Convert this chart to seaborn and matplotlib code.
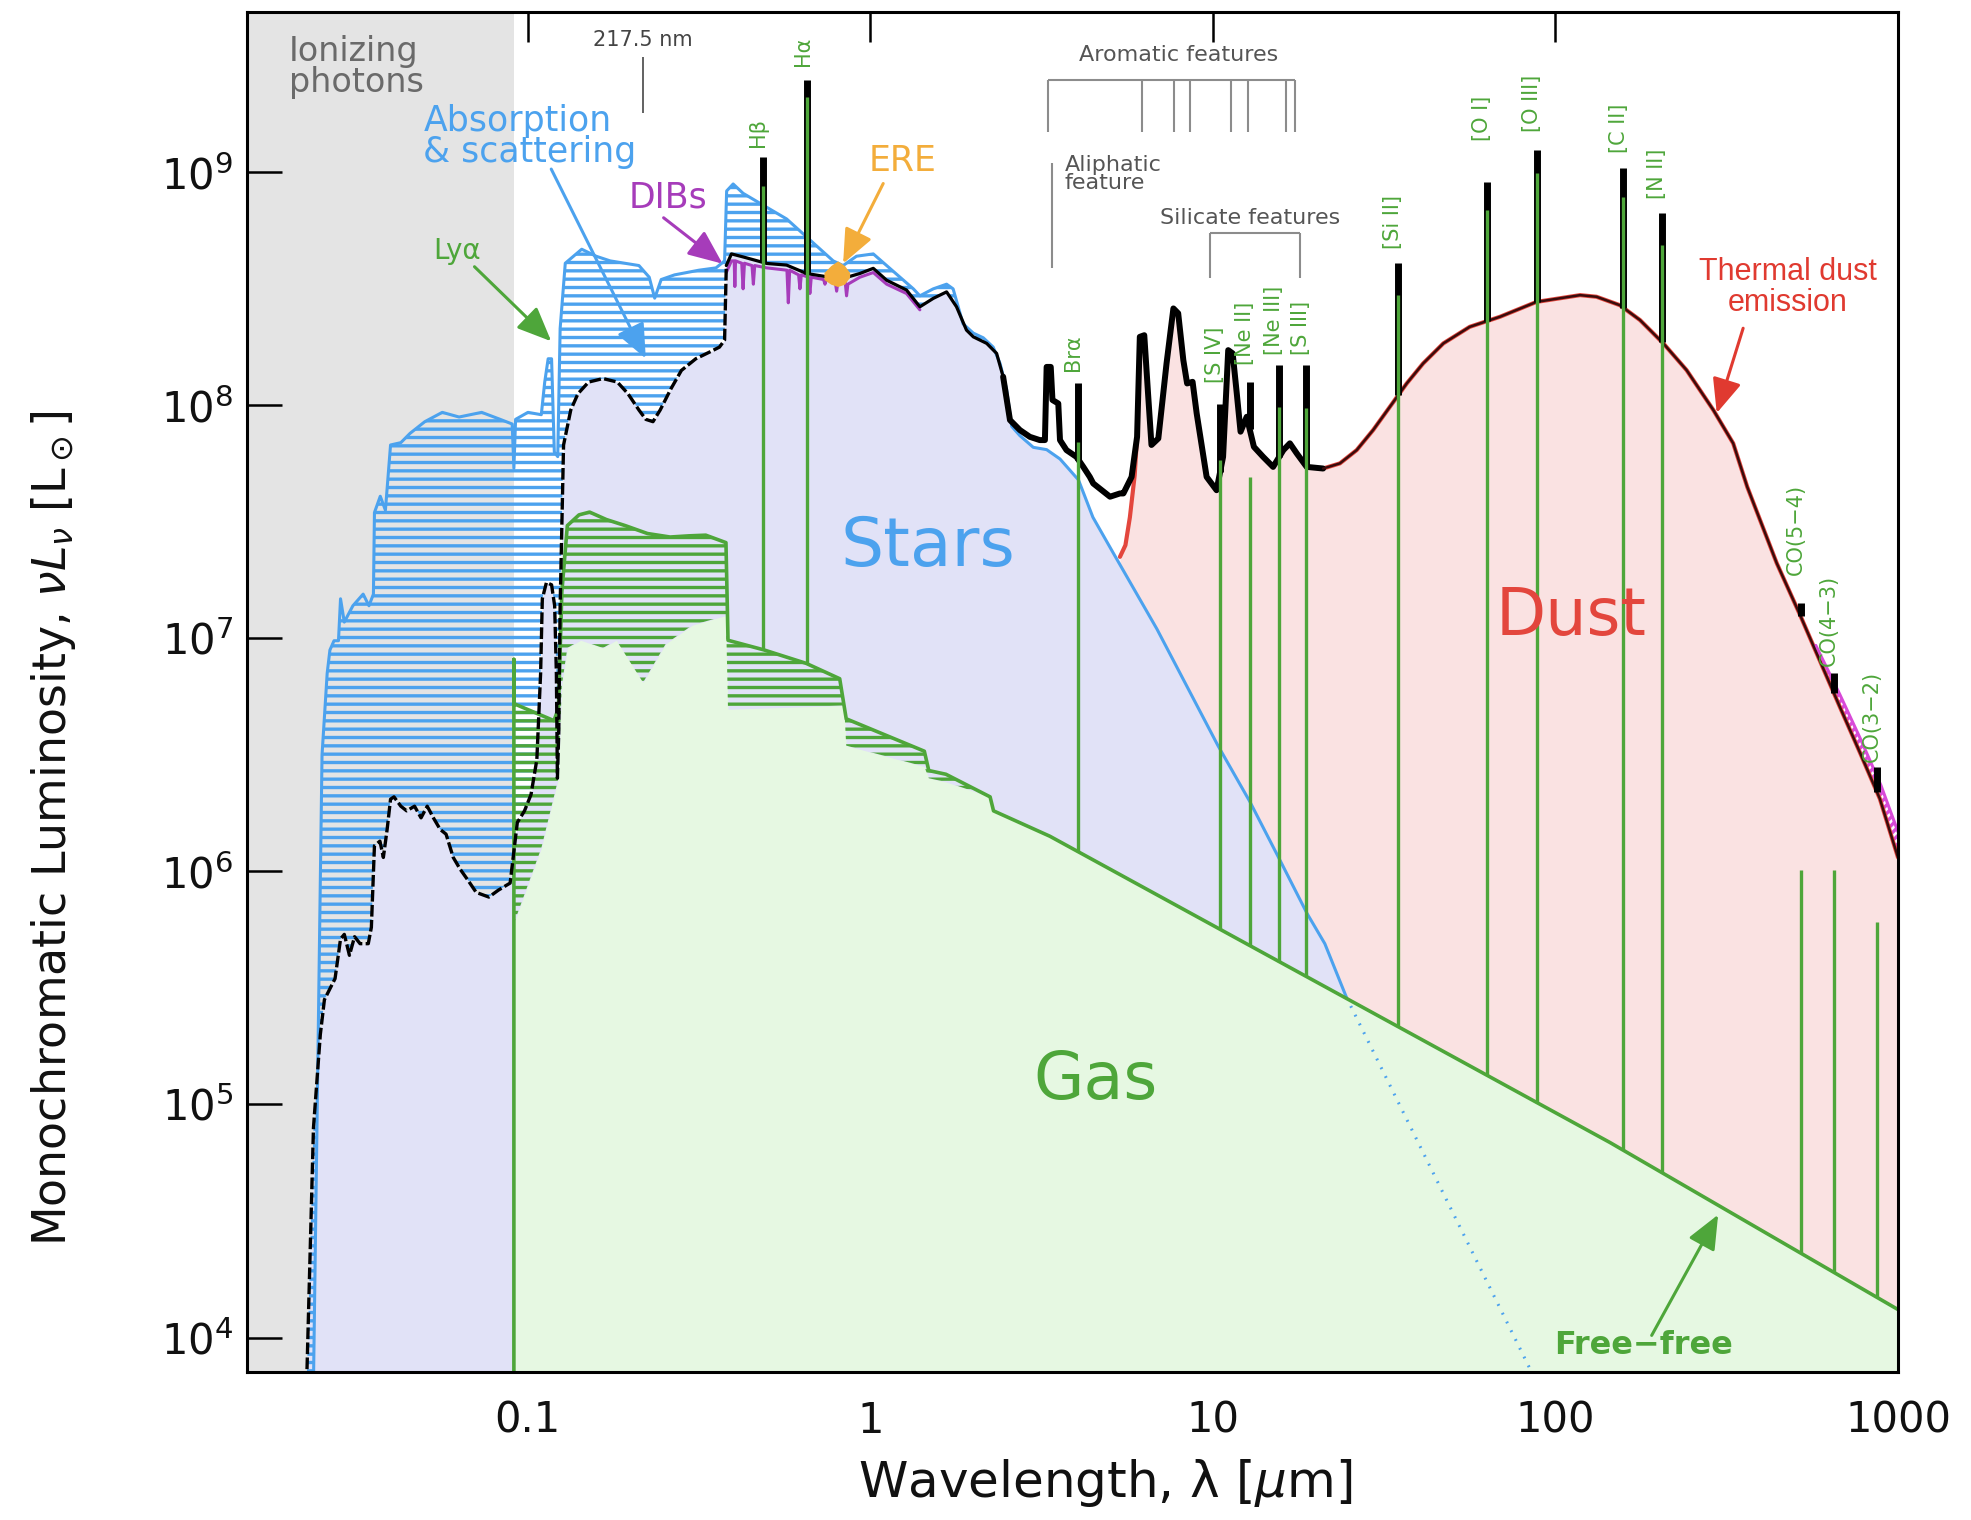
import numpy as np
import matplotlib
matplotlib.use("Agg")
import matplotlib.pyplot as plt
from matplotlib.ticker import NullLocator
import seaborn as sns

# ---------------- DATA ----------------
# spectra: log10(wavelength / micron), log10(nu L_nu / L_sun)

# intrinsic (unattenuated) stellar spectrum (blue)
star_intr_loglam = [-1.625, -1.600, -1.585, -1.577, -1.565, -1.552, -1.546, -1.535, -1.510, -1.480,
                    -1.463, -1.450, -1.447, -1.430, -1.415, -1.400, -1.370, -1.343, -1.300, -1.249,
                    -1.200, -1.134, -1.080, -1.045, -1.040, -1.035, -0.999, -0.960, -0.950, -0.940,
                    -0.930, -0.922, -0.912, -0.905, -0.890, -0.842, -0.800, -0.759, -0.675, -0.645,
                    -0.629, -0.610, -0.571, -0.500, -0.450, -0.425, -0.419, -0.400, -0.371, -0.302,
                    -0.244, -0.176, -0.108, -0.079, -0.040, 0.009, 0.048, 0.126, 0.145, 0.184,
                    0.223, 0.242, 0.271, 0.301, 0.330, 0.359, 0.379, 0.398, 0.413, 0.437,
                    0.476, 0.515, 0.554, 0.608, 0.650, 0.712, 0.837, 1.015, 1.108, 1.192,
                    1.275, 1.327, 1.390, 1.921, 1.950]
star_intr_logL = [3.80, 6.50, 6.85, 6.95, 6.99, 6.99, 7.17, 7.07, 7.14, 7.19,
                  7.14, 7.19, 7.54, 7.61, 7.55, 7.83, 7.84, 7.88, 7.93, 7.97,
                  7.95, 7.97, 7.94, 7.92, 7.73, 7.94, 7.97, 7.96, 8.10, 8.20,
                  8.20, 7.80, 7.78, 8.33, 8.61, 8.67, 8.64, 8.62, 8.60, 8.55,
                  8.46, 8.54, 8.56, 8.58, 8.59, 8.62, 8.92, 8.95, 8.91, 8.85,
                  8.80, 8.71, 8.62, 8.60, 8.64, 8.65, 8.60, 8.50, 8.47, 8.50,
                  8.52, 8.50, 8.35, 8.31, 8.29, 8.25, 8.18, 8.07, 7.91, 7.87,
                  7.82, 7.81, 7.77, 7.68, 7.52, 7.36, 7.04, 6.54, 6.30, 6.06,
                  5.82, 5.69, 5.46, 3.88, 3.79]

# observed total (black): UV to near-IR part (attenuated stars + PAH 3.3)
total_uv_loglam = [-1.645, -1.625, -1.605, -1.593, -1.562, -1.546, -1.535, -1.520, -1.505, -1.489,
                   -1.465, -1.456, -1.447, -1.431, -1.421, -1.410, -1.400, -1.390, -1.370, -1.353,
                   -1.330, -1.311, -1.293, -1.275, -1.255, -1.238, -1.217, -1.197, -1.173, -1.150,
                   -1.113, -1.085, -1.051, -1.030, -1.009, -0.990, -0.973, -0.962, -0.957, -0.945,
                   -0.930, -0.921, -0.916, -0.913, -0.909, -0.905, -0.895, -0.874, -0.853, -0.822,
                   -0.780, -0.738, -0.707, -0.675, -0.655, -0.634, -0.613, -0.582, -0.551, -0.509,
                   -0.467, -0.440, -0.425, -0.420, -0.405, -0.371, -0.302, -0.244, -0.186, -0.127,
                   -0.079, -0.030, 0.009, 0.048, 0.106, 0.145, 0.184, 0.223, 0.252, 0.281,
                   0.301, 0.340, 0.369, 0.388, 0.408, 0.437, 0.466, 0.495, 0.510, 0.515,
                   0.527, 0.532, 0.549, 0.554, 0.573, 0.602, 0.622, 0.641, 0.651, 0.700,
                   0.729, 0.739, 0.763]
total_uv_logL = [3.80, 4.90, 5.30, 5.45, 5.54, 5.71, 5.73, 5.64, 5.72, 5.69,
                 5.69, 5.76, 6.11, 6.13, 6.06, 6.18, 6.31, 6.32, 6.28, 6.26,
                 6.28, 6.23, 6.28, 6.23, 6.18, 6.16, 6.06, 6.01, 5.96, 5.91,
                 5.89, 5.92, 5.95, 6.21, 6.26, 6.33, 6.48, 6.85, 7.17, 7.24,
                 7.23, 7.14, 6.85, 6.40, 6.60, 7.14, 7.83, 7.98, 8.05, 8.10,
                 8.115, 8.10, 8.05, 7.98, 7.94, 7.93, 7.98, 8.07, 8.15, 8.20,
                 8.23, 8.25, 8.28, 8.60, 8.65, 8.637, 8.609, 8.602, 8.566, 8.552,
                 8.545, 8.566, 8.588, 8.537, 8.495, 8.423, 8.459, 8.487, 8.423, 8.323,
                 8.294, 8.266, 8.223, 8.123, 7.937, 7.894, 7.865, 7.851, 7.851, 8.165,
                 8.165, 8.023, 8.008, 7.851, 7.808, 7.779, 7.736, 7.693, 7.665, 7.608,
                 7.622, 7.622, 7.693]

# observed total: infrared part (dust dominated)
total_ir_loglam = [0.779, 0.787, 0.800, 0.811, 0.821, 0.841, 0.865, 0.885, 0.899, 0.914,
                   0.925, 0.941, 0.953, 0.982, 1.011, 1.030, 1.045, 1.058, 1.070, 1.081,
                   1.099, 1.120, 1.147, 1.176, 1.206, 1.225, 1.245, 1.274, 1.322, 1.371,
                   1.420, 1.468, 1.517, 1.566, 1.614, 1.673, 1.750, 1.838, 1.945, 2.072,
                   2.120, 2.188, 2.247, 2.315, 2.383, 2.461, 2.519, 2.560, 2.646, 2.714,
                   2.772, 2.830, 2.889, 2.947, 3.000]
total_ir_logL = [7.865, 8.294, 8.301, 8.051, 7.830, 7.858, 8.180, 8.416, 8.395, 8.194,
                 8.094, 8.101, 7.965, 7.693, 7.636, 7.779, 8.237, 8.223, 8.051, 7.887,
                 7.951, 7.822, 7.779, 7.736, 7.808, 7.837, 7.794, 7.736, 7.729, 7.751,
                 7.808, 7.894, 7.994, 8.094, 8.180, 8.266, 8.337, 8.380, 8.444, 8.473,
                 8.466, 8.430, 8.366, 8.266, 8.151, 7.980, 7.837, 7.650, 7.323, 7.101,
                 6.904, 6.707, 6.510, 6.312, 6.060]

# rising edge of the thermal-dust curve before it joins the total
dust_edge_loglam = [0.729, 0.745, 0.758, 0.772]
dust_edge_logL = [7.35, 7.40, 7.52, 7.70]

# nebular gas: intrinsic continuum (green line) and attenuated (pale fill top)
gas_intr_loglam = [-1.040, -1.040, -1.040, -0.923, -0.910, -0.900, -0.884, -0.850, -0.819, -0.770,
                   -0.715, -0.650, -0.584, -0.530, -0.480, -0.421, -0.415, -0.311, -0.187, -0.089,
                   -0.070, 0.158, 0.171, 0.221, 0.350, 0.360, 0.5245, 2.159, 3.000]
gas_intr_logL = [3.80, 6.91, 6.72, 6.647, 6.70, 7.20, 7.484, 7.53, 7.542, 7.51,
                 7.484, 7.45, 7.435, 7.44, 7.443, 7.411, 6.992, 6.951, 6.893, 6.827,
                 6.655, 6.516, 6.433, 6.417, 6.32, 6.26, 6.151, 4.837, 4.12]
gas_att_loglam = [-1.040, -1.040, -0.960, -0.910, -0.900, -0.884, -0.845, -0.780, -0.741, -0.663,
                  -0.597, -0.519, -0.421, -0.415, -0.076, -0.070, 0.158, 0.171, 0.221, 0.350,
                  0.360, 0.5245, 2.159, 3.000]
gas_att_logL = [3.80, 5.777, 6.10, 6.40, 6.80, 6.959, 6.992, 6.959, 6.992, 6.811,
                6.976, 7.057, 7.098, 6.696, 6.712, 6.54, 6.45, 6.40, 6.384, 6.32,
                6.26, 6.151, 4.837, 4.12]

# diffuse interstellar bands (purple) and extended red emission (orange)
dib_loglam = [-0.420, -0.405, -0.397, -0.395, -0.393, -0.375, -0.371, -0.367, -0.345, -0.341,
              -0.337, -0.302, -0.243, -0.239, -0.235, -0.209, -0.205, -0.201, -0.180, -0.176,
              -0.172, -0.136, -0.132, -0.128, -0.102, -0.098, -0.094, -0.073, -0.069, -0.065,
              -0.030, 0.009, 0.048, 0.106, 0.145]
dib_logL = [8.57, 8.62, 8.62, 8.51, 8.62, 8.61, 8.50, 8.61, 8.60, 8.52,
            8.60, 8.59, 8.58, 8.44, 8.58, 8.56, 8.50, 8.56, 8.55, 8.48,
            8.55, 8.54, 8.52, 8.54, 8.53, 8.49, 8.53, 8.53, 8.47, 8.52,
            8.55, 8.57, 8.52, 8.48, 8.41]
ere_loglam = [-0.135, -0.115, -0.095, -0.075, -0.060]
ere_top_logL = [8.57, 8.60, 8.62, 8.60, 8.57]
ere_bot_logL = [8.54, 8.52, 8.51, 8.52, 8.55]

# far-IR magenta component
sync_loglam = [2.76, 2.83, 2.89, 2.95, 3.00]
sync_logL = [6.97, 6.76, 6.57, 6.37, 6.17]

# emission lines
line_names = ["Hβ", "Hα", "Brα", "[S IV]", "[Ne II]", "[Ne III]", "[S III]", "[Si II]",
              "[O I]", "[O III]", "[C II]", "[N II]", "CO(5−4)", "CO(4−3)", "CO(3−2)"]
line_wl = [0.486, 0.656, 4.05, 10.5, 12.8, 15.6, 18.7, 34.8, 63.2, 88.4, 158.0, 205.0,
           520.0, 650.0, 867.0]
line_green_top = [8.94, 9.324, 7.844, 7.765, 7.694, 7.994, 7.987, 8.473, 8.838, 8.995,
                  8.895, 8.688, 6.005, 6.005, 5.783]
line_black_top = [9.064, 9.396, 8.094, 8.008, 8.101, 8.173, 8.173, 8.609, 8.959, 9.095,
                  9.017, 8.824, 7.15, 6.85, 6.45]
line_label_bottom = [9.108, 9.458, 8.148, 8.094, 8.175, 8.218, 8.218, 8.671, 9.135, 9.173,
                     9.081, 8.887, 7.27, 6.88, 6.47]

# feature markers (micron)
aromatic_wl = [3.3, 6.2, 7.7, 8.6, 11.3, 12.7, 16.4, 17.4]
aliphatic_wl = 3.4
silicate_wl = [9.8, 18.0]
bump_wl = 0.2175
lyman_limit_wl = 0.0912

xtick_vals = [0.1, 1, 10, 100, 1000]
xtick_labels = ["0.1", "1", "10", "100", "1000"]
ytick_vals = [1e4, 1e5, 1e6, 1e7, 1e8, 1e9]

# ---------------- STYLE ----------------
sns.set_theme(style="white")
plt.rcParams["font.family"] = ["DejaVu Sans"]
plt.rcParams["mathtext.fontset"] = "dejavusans"
plt.rcParams["hatch.linewidth"] = 2.4

BLUE = "#4ca2ee"
GREEN = "#4ea63a"
PALEGREEN = "#e6f8e2"
LAVENDER = "#e1e2f7"
PINK = "#fae2e2"
GREY = "#e4e4e4"
RED = "#e3463d"
PURPLE = "#a63cba"
ORANGE = "#f3ad3b"
MAGENTA = "#d84ad8"
FEAT = "#8c8c8c"

fig = plt.figure(figsize=(19.71, 15.20), dpi=100)
ax = fig.add_axes([247 / 1971, 148 / 1520, 1651 / 1971, 1360 / 1520])
ax.set_xscale("log")
ax.set_yscale("log")
XMIN, XMAX = 10 ** -1.819, 10 ** 3.0
YMIN, YMAX = 10 ** 3.852, 10 ** 9.688
ax.set_xlim(XMIN, XMAX)
ax.set_ylim(YMIN, YMAX)

E = lambda a: 10 ** np.asarray(a, dtype=float)

si_x, si_y = np.array(star_intr_loglam), np.array(star_intr_logL)
tu_x, tu_y = np.array(total_uv_loglam), np.array(total_uv_logL)
ti_x, ti_y = np.array(total_ir_loglam), np.array(total_ir_logL)
tot_x, tot_y = np.r_[tu_x, ti_x], np.r_[tu_y, ti_y]
du_x, du_y = np.r_[dust_edge_loglam, ti_x], np.r_[dust_edge_logL, ti_y]
gi_x, gi_y = np.array(gas_intr_loglam), np.array(gas_intr_logL)
ga_x, ga_y = np.array(gas_att_loglam), np.array(gas_att_logL)

# attenuated stars = black curve in UV/optical, intrinsic beyond 2.5 micron
m1 = tu_x <= 0.408
m2 = si_x >= 0.413
sa_x, sa_y = np.r_[tu_x[m1], si_x[m2]], np.r_[tu_y[m1], si_y[m2]]

# ---------------- FILLS ----------------
ax.axvspan(XMIN, lyman_limit_wl, color=GREY, lw=0, zorder=0.5)
ax.fill_between(E(du_x), YMIN, E(du_y), color=PINK, lw=0, zorder=1.0)
ax.fill_between(E(sa_x), YMIN, E(sa_y), color=LAVENDER, lw=0, zorder=1.2)
mb = si_x <= 0.413
ax.fill(np.r_[E(si_x[mb]), E(tu_x[m1])[::-1]], np.r_[E(si_y[mb]), E(tu_y[m1])[::-1]],
        facecolor="none", edgecolor=BLUE, lw=0, hatch="--", zorder=1.4)
ax.fill_between(E(ga_x), YMIN, E(ga_y), color=PALEGREEN, lw=0, zorder=1.6)
mg1 = (np.arange(len(gi_x)) >= 2) & (gi_x <= 0.35)
mg2 = (np.arange(len(ga_x)) >= 1) & (ga_x <= 0.35)
ax.fill(np.r_[E(gi_x[mg1]), E(ga_x[mg2])[::-1]], np.r_[E(gi_y[mg1]), E(ga_y[mg2])[::-1]],
        facecolor="none", edgecolor=GREEN, lw=0, hatch="--", zorder=1.8)
ms = ti_x >= 2.76
ax.fill(np.r_[E(sync_loglam), E(ti_x[ms])[::-1]], np.r_[E(sync_logL), E(ti_y[ms])[::-1]],
        facecolor="none", edgecolor=MAGENTA, lw=0, hatch="////", zorder=1.9)
ax.fill_between(E(ere_loglam), E(ere_bot_logL), E(ere_top_logL), color=ORANGE, lw=0, zorder=3.6)


def sline(x, y, **kw):
    sns.lineplot(x=E(x), y=E(y), ax=ax, estimator=None, sort=False, legend=False, **kw)


# ---------------- LINES ----------------
ms1 = si_x <= 1.39
ms2 = si_x >= 1.39
sline(si_x[ms1], si_y[ms1], color=BLUE, lw=2.2, zorder=3.0)
sline(si_x[ms2], si_y[ms2], color=BLUE, lw=2.2, linestyle=(0, (0.6, 2.6)), zorder=3.0)
sline(du_x, du_y, color=RED, lw=3.0, zorder=3.1)
sline(gi_x, gi_y, color=GREEN, lw=2.6, zorder=3.2)
sline(dib_loglam, dib_logL, color=PURPLE, lw=2.2, zorder=3.3)
sline(sync_loglam, sync_logL, color=MAGENTA, lw=2.2, zorder=3.3)
ka = tot_x <= -0.420
kb = (tot_x >= -0.420) & (tot_x <= 0.408)
kc = (tot_x >= 0.388) & (tot_x <= 1.322)
kd = tot_x >= 1.322
sline(tot_x[ka], tot_y[ka], color="black", lw=2.4, linestyle=(0, (3.5, 1.0)), zorder=3.5)
sline(tot_x[kb], tot_y[kb], color="black", lw=2.3, zorder=3.5)
sline(tot_x[kc], tot_y[kc], color="black", lw=4.3, zorder=3.5)
sline(tot_x[kd], tot_y[kd], color="#3a0c0c", lw=1.8, zorder=3.5)

# emission lines
gas_mono_x, gas_mono_y = gi_x[2:], gi_y[2:]
for name, wl, gt, bt, lb in zip(line_names, line_wl, line_green_top, line_black_top, line_label_bottom):
    lw_ = np.log10(wl)
    cont = np.interp(lw_, tot_x, tot_y)
    base = np.interp(lw_, gas_mono_x, gas_mono_y)
    if bt > cont:
        ax.vlines(wl, 10 ** cont, 10 ** bt, color="black", lw=5.0, zorder=4.0)
    ax.vlines(wl, 10 ** base, 10 ** gt, color=GREEN, lw=2.4, zorder=4.5)
    ax.annotate(name, (wl, 10 ** lb), xytext=(-3.5, 0), textcoords="offset points",
                rotation=90, ha="center", va="bottom", fontsize=15, color=GREEN, zorder=6)

# ---------------- FEATURE BRACKETS ----------------
ax.hlines(10 ** 9.396, aromatic_wl[0], aromatic_wl[-1], color=FEAT, lw=1.5, zorder=5)
ax.vlines(aromatic_wl, 10 ** 9.174, 10 ** 9.396, color=FEAT, lw=1.5, zorder=5)
ax.vlines(aliphatic_wl, 10 ** 8.59, 10 ** 9.04, color=FEAT, lw=1.5, zorder=5)
ax.hlines(10 ** 8.738, silicate_wl[0], silicate_wl[1], color=FEAT, lw=1.5, zorder=5)
ax.vlines(silicate_wl, 10 ** 8.545, 10 ** 8.738, color=FEAT, lw=1.5, zorder=5)
ax.vlines(bump_wl, 10 ** 9.253, 10 ** 9.496, color="#555555", lw=1.3, zorder=5)


def P(lx, ly):
    return (10 ** lx, 10 ** ly)


ax.text(*P(-0.664, 9.567), "217.5 nm", fontsize=15, color="#444444", ha="center", va="center", zorder=6)
ax.text(*P(0.901, 9.503), "Aromatic features", fontsize=16, color="#555555", ha="center", va="center", zorder=6)
ax.text(*P(0.568, 9.075), "Aliphatic\nfeature", fontsize=16, color="#555555", ha="left", va="top",
        linespacing=0.9, zorder=6)
ax.text(*P(1.109, 8.802), "Silicate features", fontsize=16, color="#555555", ha="center", va="center", zorder=6)

# ---------------- LABELS / ANNOTATIONS ----------------
ax.text(*P(-1.697, 9.59), "Ionizing\nphotons", fontsize=24, color="#6a6a6a", ha="left", va="top",
        linespacing=0.92, zorder=6)
ax.text(*P(-1.304, 9.295), "Absorption\n& scattering", fontsize=25, color=BLUE, ha="left", va="top",
        linespacing=0.9, zorder=6)
ax.text(*P(-1.207, 8.664), "Lyα", fontsize=20, color=GREEN, ha="center", va="center", zorder=6)
ax.text(*P(-0.589, 8.891), "DIBs", fontsize=25, color=PURPLE, ha="center", va="center", zorder=6)
ax.text(*P(0.094, 9.049), "ERE", fontsize=25, color=ORANGE, ha="center", va="center", zorder=6)
ax.text(*P(0.168, 7.393), "Stars", fontsize=49, color=BLUE, ha="center", va="center", zorder=6)
ax.text(*P(2.047, 7.091), "Dust", fontsize=47, color=RED, ha="center", va="center", zorder=6)
ax.text(*P(0.659, 5.10), "Gas", fontsize=47, color=GREEN, ha="center", va="center", zorder=6)
ax.text(*P(2.256, 3.965), "Free−free", fontsize=23, color=GREEN, ha="center", va="center",
        fontweight="bold", zorder=6)
ax.text(*P(2.679, 8.505), "Thermal dust\nemission", fontsize=22, color="#e03a30", ha="center",
        va="center", family=["Liberation Sans", "DejaVu Sans"], linespacing=1.05, zorder=6)


def arrow(tail, head, color):
    ax.annotate("", xy=P(*head), xytext=P(*tail),
                arrowprops=dict(arrowstyle="-|>,head_length=0.7,head_width=0.3", color=color,
                                lw=2.2, shrinkA=0, shrinkB=0, mutation_scale=30), zorder=6)


arrow((-0.931, 9.014), (-0.655, 8.201), BLUE)
arrow((-1.155, 8.595), (-0.931, 8.275), GREEN)
arrow((-0.603, 8.805), (-0.431, 8.608), PURPLE)
arrow((0.038, 8.952), (-0.079, 8.609), ORANGE)
arrow((2.548, 8.331), (2.471, 7.967), "#e03a30")
arrow((2.281, 4.009), (2.475, 4.527), GREEN)

# ---------------- AXES ----------------
ax.set_xticks(xtick_vals)
ax.set_xticklabels(xtick_labels)
ax.set_yticks(ytick_vals)
ax.xaxis.set_minor_locator(NullLocator())
ax.yaxis.set_minor_locator(NullLocator())
ax.tick_params(axis="x", which="major", direction="in", length=21.6, width=1.8, top=True,
               bottom=False, labelbottom=True, labelsize=30, pad=20, color="black", labelcolor="#111111")
ax.tick_params(axis="y", which="major", direction="in", length=25, width=1.8, left=True,
               right=False, labelsize=30, pad=10, color="black", labelcolor="#111111")
for s in ax.spines.values():
    s.set_linewidth(2.2)
    s.set_color("black")
    s.set_zorder(7)

ax.set_xlabel("Wavelength, λ [$\\mu$m]", fontsize=36, color="#111111")
ax.xaxis.set_label_coords(0.520, -0.0816)
ax.xaxis.label.set_va("center")
ax.set_ylabel("Monochromatic Luminosity, $\\nu L_\\nu$ [L$_\\odot$]", fontsize=33, color="#111111")
ax.yaxis.set_label_coords(-0.1175, 0.400)
ax.yaxis.label.set_va("center")

fig.savefig("out.png", dpi=100, facecolor="white")
